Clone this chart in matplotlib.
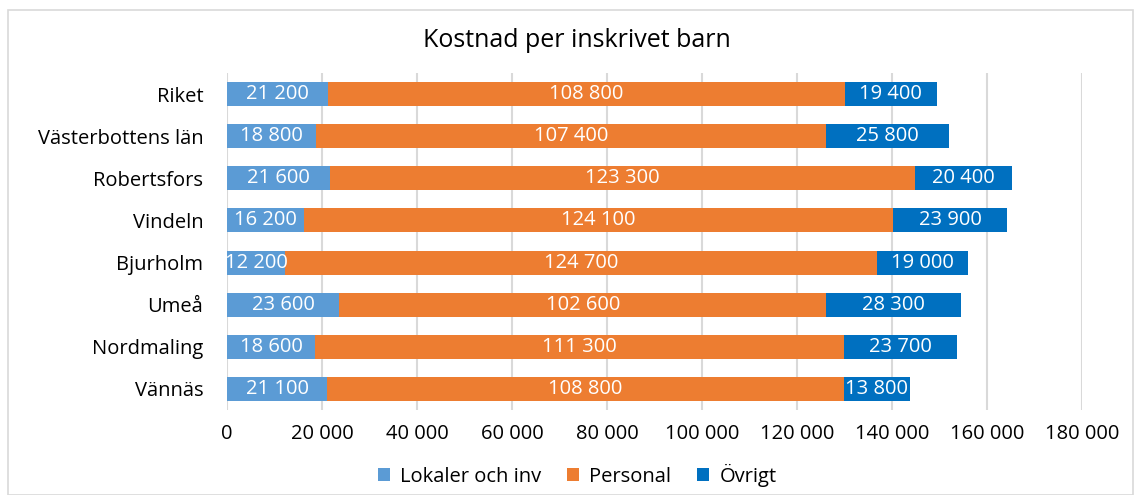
import numpy as np
import matplotlib.pyplot as plt
from matplotlib.patches import Rectangle

# ==============================
# DATA
# ==============================
kommuner = ["Riket", "Västerbottens län", "Robertsfors", "Vindeln",
            "Bjurholm", "Umeå", "Nordmaling", "Vännäs"]
lokaler = [21200, 18800, 21600, 16200, 12200, 23600, 18600, 21100]
personal = [108800, 107400, 123300, 124100, 124700, 102600, 111300, 108800]
ovrigt = [19400, 25800, 20400, 23900, 19000, 28300, 23700, 13800]

series = [("Lokaler och inv", lokaler, "#5B9BD5"),
          ("Personal", personal, "#ED7D31"),
          ("Övrigt", ovrigt, "#0070C0")]

plt.rcParams['font.family'] = ['Open Sans', 'DejaVu Sans']

# ==============================
# PLOT
# ==============================
fig = plt.figure(figsize=(11.36, 4.95), dpi=100)
ax = fig.add_axes([0.1998, 0.1717, 0.7527, 0.6808])

# chart border
fig.patches.append(Rectangle((0.007, 0.0), 0.99, 0.98, transform=fig.transFigure,
                             fill=False, edgecolor="#D9D9D9", linewidth=1.2))

y = np.arange(len(kommuner))
left = np.zeros(len(kommuner))
for name, vals, color in series:
    vals = np.array(vals)
    ax.barh(y, vals, left=left, height=0.57, color=color, label=name, zorder=3)
    for yi, l, v in zip(y, left, vals):
        ax.text(l + v / 2, yi, f"{v:,}".replace(",", " "), ha="center", va="center",
                color="white", fontsize=14.5, zorder=4)
    left += vals

ax.set_xlim(0, 180000)
ax.set_ylim(len(kommuner) - 0.5, -0.5)
ax.set_yticks(y)
ax.set_yticklabels(kommuner, fontsize=14.5)
xt = np.arange(0, 180001, 20000)
ax.set_xticks(xt)
ax.set_xticklabels([f"{v:,}".replace(",", " ") for v in xt], fontsize=14.5)
ax.tick_params(length=0, pad=10)
ax.tick_params(axis="y", pad=17)
ax.grid(axis="x", color="#D9D9D9", linewidth=1.5, zorder=0)
for s in ax.spines.values():
    s.set_visible(False)

fig.text(0.508, 0.918, "Kostnad per inskrivet barn", ha="center", va="center", fontsize=18)
fig.legend(loc="center", bbox_to_anchor=(0.508, 0.04), ncol=3, frameon=False,
           fontsize=14.5, handlelength=0.6, handleheight=0.6, columnspacing=1.3,
           handletextpad=0.5)

plt.savefig("out.png", dpi=100)
